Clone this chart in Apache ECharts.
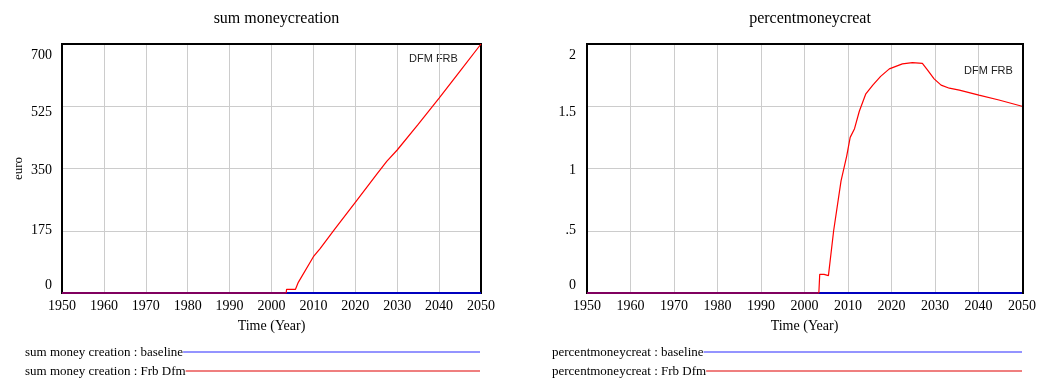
<!DOCTYPE html>
<html>
<head>
<meta charset="utf-8">
<script src="https://cdn.jsdelivr.net/npm/echarts@6/dist/echarts.min.js"></script>
<style>
html,body{margin:0;padding:0;background:#fff;}
#chart{width:1039px;height:378px;}
</style>
</head>
<body>
<div id="chart"></div>
<script>
// ---- data ----
const titles = ['sum moneycreation', 'percentmoneycreat'];
const legendNames = [
  ['sum money creation : baseline', 'sum money creation : Frb Dfm'],
  ['percentmoneycreat : baseline', 'percentmoneycreat : Frb Dfm']
];
const baselineYears = [1950, 2050];
const baselineSum = [0, 0];
const baselinePct = [0, 0];

const sumYears = [1950, 2003.5, 2003.6, 2005.7, 2006.4, 2010, 2011.6, 2015, 2020, 2025, 2027.5, 2030, 2035, 2040, 2045, 2050];
const sumFrb   = [0, 0, 10, 10, 30, 102, 125, 178, 255, 332, 370, 402, 474, 548, 624, 700];

const pctYears = [1950, 2003.3, 2003.5, 2004.5, 2005.5, 2006.7, 2008.4, 2009.7, 2010.5, 2011.5, 2012.6, 2014.1, 2015.7, 2017.5, 2019.5, 2022.5, 2024.8, 2027.1, 2028.3, 2029.8, 2031.4, 2033.3, 2035.6, 2040.1, 2044.7, 2050];
const pctFrb   = [0, 0, 0.15, 0.15, 0.14, 0.5, 0.9, 1.1, 1.25, 1.32, 1.46, 1.6, 1.67, 1.74, 1.8, 1.84, 1.85, 1.845, 1.79, 1.72, 1.67, 1.645, 1.63, 1.59, 1.55, 1.5];

const sumTicks = {min: 0, max: 700, interval: 175};
const pctTicks = {min: 0, max: 2, interval: 0.5};
const yearTicks = {min: 1950, max: 2050, interval: 10};
const annotation = 'DFM FRB';
// --------------------------------------

const serif = 'Liberation Serif';
const pairs = (xs, ys) => xs.map((x, i) => [x, ys[i]]);

function yLabelFormatter(max, fmt) {
  return function (v) {
    const f = (v / max);
    const txt = fmt(v);
    if (f >= 0.999) return '{t|' + txt + '}';
    if (Math.abs(f - 0.75) < 1e-6) return '{u|' + txt + '}';
    if (Math.abs(f - 0.5) < 1e-6) return '{m|' + txt + '}';
    if (f <= 0.001) return '{b|' + txt + '}';
    return '{n|' + txt + '}';
  };
}
const richY = {
  t: {fontFamily: serif, fontSize: 14, color: '#000', padding: [22, 0, 0, 0]},
  u: {fontFamily: serif, fontSize: 14, color: '#000', padding: [12, 0, 0, 0]},
  m: {fontFamily: serif, fontSize: 14, color: '#000', padding: [4, 0, 0, 0]},
  n: {fontFamily: serif, fontSize: 14, color: '#000'},
  b: {fontFamily: serif, fontSize: 14, color: '#000', padding: [0, 0, 16, 0]}
};

const grids = [
  {left: 62, top: 44, width: 419, height: 249},
  {left: 587, top: 44, width: 436, height: 249}
];

function xAxis(i) {
  return {
    type: 'value', gridIndex: i, min: yearTicks.min, max: yearTicks.max, interval: yearTicks.interval,
    name: 'Time (Year)', nameLocation: 'middle', nameGap: 26,
    nameTextStyle: {fontFamily: serif, fontSize: 14, color: '#000'},
    axisLine: {show: false}, axisTick: {show: false},
    axisLabel: {fontFamily: serif, fontSize: 14, color: '#000', margin: 6, showMinLabel: true, showMaxLabel: true,
                formatter: v => String(v)},
    splitLine: {show: true, lineStyle: {color: '#cccccc', width: 1}}
  };
}

const option = {
  animation: false,
  backgroundColor: '#fff',
  title: titles.map((t, i) => ({
    text: t, left: grids[i].left + grids[i].width / 2, top: 6, textAlign: 'center',
    textStyle: {fontFamily: serif, fontSize: 16, fontWeight: 'normal', color: '#000'}
  })),
  grid: grids.map(g => Object.assign({show: false}, g)),
  xAxis: [xAxis(0), xAxis(1)],
  yAxis: [
    {
      type: 'value', gridIndex: 0, min: sumTicks.min, max: sumTicks.max, interval: sumTicks.interval,
      name: 'euro', nameLocation: 'middle', nameGap: 37, nameRotate: 90,
      nameTextStyle: {fontFamily: serif, fontSize: 13, color: '#000'},
      axisLine: {show: false}, axisTick: {show: false},
      axisLabel: {margin: 10, formatter: yLabelFormatter(sumTicks.max, v => String(v)), rich: richY},
      splitLine: {show: true, lineStyle: {color: '#cccccc', width: 1}}
    },
    {
      type: 'value', gridIndex: 1, min: pctTicks.min, max: pctTicks.max, interval: pctTicks.interval,
      axisLine: {show: false}, axisTick: {show: false},
      axisLabel: {margin: 11, formatter: yLabelFormatter(pctTicks.max, v => (v > 0 && v < 1) ? String(v).replace(/^0/, '') : String(v)), rich: richY},
      splitLine: {show: true, lineStyle: {color: '#cccccc', width: 1}}
    }
  ],
  series: [
    {name: legendNames[0][0], type: 'line', xAxisIndex: 0, yAxisIndex: 0, data: pairs(baselineYears, baselineSum),
     symbol: 'none', clip: false, z: 13, lineStyle: {color: '#0000ff', width: 1.5}},
    {name: legendNames[0][1], type: 'line', xAxisIndex: 0, yAxisIndex: 0, data: pairs(sumYears, sumFrb),
     symbol: 'none', clip: false, z: 14, lineStyle: {color: '#ff0000', width: 1.2}},
    {name: legendNames[1][0], type: 'line', xAxisIndex: 1, yAxisIndex: 1, data: pairs(baselineYears, baselinePct),
     symbol: 'none', clip: false, z: 13, lineStyle: {color: '#0000ff', width: 1.5}},
    {name: legendNames[1][1], type: 'line', xAxisIndex: 1, yAxisIndex: 1, data: pairs(pctYears, pctFrb),
     symbol: 'none', clip: false, z: 14, lineStyle: {color: '#ff0000', width: 1.2}}
  ],
  graphic: []
};

// plot frames
grids.forEach(g => {
  option.graphic.push({
    type: 'rect', z: 10, silent: true,
    shape: {x: g.left, y: g.top, width: g.width, height: g.height},
    style: {fill: 'none', stroke: '#000', lineWidth: 2}
  });
});

// measure text for legend rows
const cv = document.createElement('canvas').getContext('2d');
cv.font = '13px "' + serif + '"';
const legendColors = ['#7070ff', '#e00000'];
const legendRows = [352, 371];
const legendStarts = [25, 552];
const legendEnds = [480, 1022];
for (let c = 0; c < 2; c++) {
  for (let r = 0; r < 2; r++) {
    const txt = legendNames[c][r];
    const w = cv.measureText(txt).width;
    option.graphic.push({
      type: 'text', left: legendStarts[c], top: legendRows[r] - 6,
      style: {text: txt, font: '13px "' + serif + '"', fill: '#000'}
    });
    option.graphic.push({
      type: 'line', shape: {x1: legendStarts[c] + w, y1: legendRows[r], x2: legendEnds[c], y2: legendRows[r]},
      style: {stroke: legendColors[r], lineWidth: r === 0 ? 1.5 : 1.2}
    });
  }
}
// annotation text
option.graphic.push({type: 'text', left: 409, top: 53, style: {text: annotation, font: '11px "Liberation Sans"', fill: '#222'}});
option.graphic.push({type: 'text', left: 964, top: 65, style: {text: annotation, font: '11px "Liberation Sans"', fill: '#222'}});

const chart = echarts.init(document.getElementById('chart'), null, {renderer: 'canvas'});
chart.setOption(option);
</script>
</body>
</html>
